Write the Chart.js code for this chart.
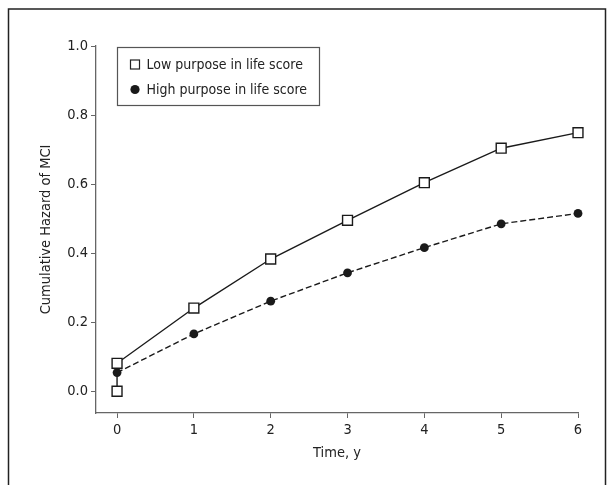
<!DOCTYPE html>
<html>
<head>
<meta charset="utf-8">
<script src="https://cdn.jsdelivr.net/npm/chart.js@4.4.1/dist/chart.umd.min.js"></script>
<style>
html,body{margin:0;padding:0;background:#fff;}
#wrap{width:611px;height:485px;}
</style>
</head>
<body>
<div id="wrap"><canvas id="c" width="611" height="485"></canvas></div>
<script>
const seriesNames = ["Low purpose in life score", "High purpose in life score"];
const lowX = [0, 0, 1, 2, 3, 4, 5, 6];
const lowY = [0.0, 0.081, 0.241, 0.383, 0.495, 0.604, 0.704, 0.749];
const highX = [0, 1, 2, 3, 4, 5, 6];
const highY = [0.054, 0.166, 0.261, 0.343, 0.416, 0.485, 0.515];
const xTicks = [0, 1, 2, 3, 4, 5, 6];
const yTicks = [0.0, 0.2, 0.4, 0.6, 0.8, 1.0];
const xTitle = "Time, y";
const yTitle = "Cumulative Hazard of MCI";

const FONT = "'Liberation Sans Narrow','DejaVu Sans Condensed','Liberation Sans',sans-serif";
const TXT = '#222';
const AX = '#666';

const framePlugin = {
  id: 'frame',
  beforeDraw(chart) {
    const ctx = chart.ctx;
    ctx.save();
    ctx.fillStyle = '#fff';
    ctx.fillRect(0, 0, chart.width, chart.height);
    ctx.strokeStyle = '#222';
    ctx.lineWidth = 1.5;
    ctx.beginPath();
    ctx.moveTo(8.5, 490);
    ctx.lineTo(8.5, 9);
    ctx.lineTo(605.5, 9);
    ctx.lineTo(605.5, 490);
    ctx.stroke();
    ctx.restore();
  }
};

const legendPlugin = {
  id: 'boxLegend',
  afterDatasetsDraw(chart) {
    const ctx = chart.ctx;
    const ca = chart.chartArea;
    const x0 = ca.left + 21.5, y0 = ca.top + 1.5;
    const w = 202, h = 58;
    ctx.save();
    ctx.fillStyle = '#fff';
    ctx.fillRect(x0, y0, w, h);
    ctx.strokeStyle = '#555';
    ctx.lineWidth = 1.2;
    ctx.strokeRect(x0, y0, w, h);
    ctx.font = '14px ' + FONT;
    ctx.fillStyle = TXT;
    ctx.textBaseline = 'middle';
    const rows = [y0 + 17, y0 + 42];
    chart.data.datasets.forEach((ds, i) => {
      const cy = rows[i];
      const cx = x0 + 17.5;
      if (i === 0) {
        ctx.fillStyle = '#fff';
        ctx.fillRect(cx - 4.5, cy - 4.5, 9, 9);
        ctx.strokeStyle = '#222';
        ctx.lineWidth = 1.2;
        ctx.strokeRect(cx - 4.5, cy - 4.5, 9, 9);
      } else {
        ctx.fillStyle = '#1a1a1a';
        ctx.beginPath();
        ctx.arc(cx, cy, 4.6, 0, Math.PI * 2);
        ctx.fill();
      }
      ctx.fillStyle = TXT;
      ctx.fillText(ds.label, x0 + 29, cy + 0.5);
    });
    ctx.restore();
  }
};

new Chart(document.getElementById('c'), {
  type: 'line',
  data: {
    datasets: [
      {
        label: seriesNames[0],
        data: lowX.map((x, i) => ({x: x, y: lowY[i]})),
        borderColor: '#1a1a1a',
        borderWidth: 1.4,
        pointStyle: 'rect',
        pointRadius: 7,
        pointBackgroundColor: '#fff',
        pointBorderColor: '#1a1a1a',
        pointBorderWidth: 1.4,
        tension: 0,
        clip: false,
        order: 2
      },
      {
        label: seriesNames[1],
        data: highX.map((x, i) => ({x: x, y: highY[i]})),
        borderColor: '#1a1a1a',
        borderWidth: 1.4,
        borderDash: [6, 3],
        pointStyle: 'circle',
        pointRadius: 4.4,
        pointBackgroundColor: '#1a1a1a',
        pointBorderColor: '#1a1a1a',
        pointBorderWidth: 0,
        tension: 0,
        clip: false,
        order: 1
      }
    ]
  },
  options: {
    responsive: false,
    animation: false,
    devicePixelRatio: 1,
    layout: { padding: { left: 0, top: 46, right: 33, bottom: 23 } },
    plugins: { legend: { display: false }, tooltip: { enabled: false } },
    scales: {
      x: {
        type: 'linear',
        min: -0.274,
        max: 6,
        afterBuildTicks(s) { s.ticks = xTicks.map(v => ({value: v})); },
        afterFit(s) { s.height = 485 - 413 - 23; },
        grid: { display: true, drawOnChartArea: false, drawTicks: true, tickLength: 5, color: AX, lineWidth: 1 },
        border: { display: true, color: AX, width: 1.3 },
        ticks: { color: TXT, font: { family: FONT, size: 14.5 }, padding: 4, maxRotation: 0, autoSkip: false, callback: v => String(v) },
        title: { display: true, text: xTitle, color: TXT, font: { family: FONT, size: 14.5 }, padding: { top: 0, bottom: 0 } }
      },
      y: {
        type: 'linear',
        min: -0.063,
        max: 1.0,
        afterBuildTicks(s) { s.ticks = yTicks.map(v => ({value: v})); },
        afterFit(s) { s.width = 96; },
        grid: { display: true, drawOnChartArea: false, drawTicks: true, tickLength: 5, color: AX, lineWidth: 1 },
        border: { display: true, color: AX, width: 1.3 },
        ticks: { color: TXT, font: { family: FONT, size: 14.5 }, padding: 3, autoSkip: false, callback: v => v.toFixed(1) },
        title: { display: true, text: yTitle, color: TXT, font: { family: FONT, size: 14.5 }, padding: { top: 38, bottom: 0 } }
      }
    }
  },
  plugins: [framePlugin, legendPlugin]
});
</script>
</body>
</html>
